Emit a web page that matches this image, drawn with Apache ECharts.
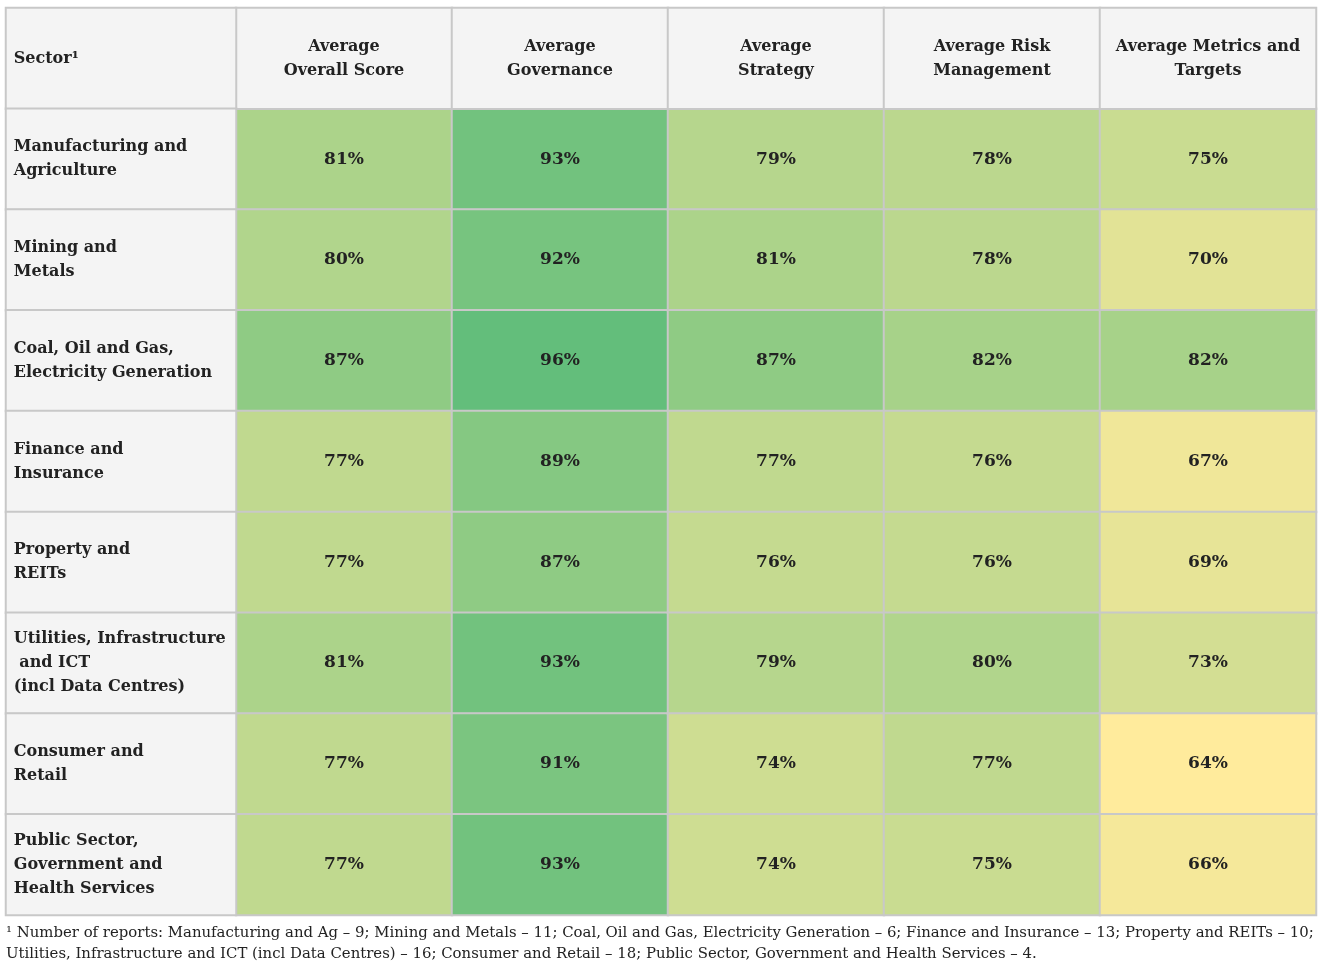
<!DOCTYPE html>
<html lang="en">
<head>
  <meta charset="UTF-8">
  <script src="https://cdn.jsdelivr.net/npm/echarts@6/dist/echarts.min.js"></script>
  <style>
    body { margin: 0; background: #fff; }
    #main { width: 1325px; height: 973px; }
  </style>
</head>
<body>
  <div id="main"></div>
  <script>
    // row labels (first one is the corner header)
    const sectors = [
      'Manufacturing and\nAgriculture',
      'Mining and\nMetals',
      'Coal, Oil and Gas,\nElectricity Generation',
      'Finance and\nInsurance',
      'Property and\nREITs',
      'Utilities, Infrastructure\n and ICT\n(incl Data Centres)',
      'Consumer and\nRetail',
      'Public Sector,\nGovernment and\nHealth Services'
    ];
    const metrics = [
      'Average\nOverall Score',
      'Average\nGovernance',
      'Average\nStrategy',
      'Average Risk\nManagement',
      'Average Metrics and\nTargets'
    ];
    const overall    = [81, 80, 87, 77, 77, 81, 77, 77];
    const governance = [93, 92, 96, 89, 87, 93, 91, 93];
    const strategy   = [79, 81, 87, 77, 76, 79, 74, 74];
    const risk       = [78, 78, 82, 76, 76, 80, 77, 75];
    const targets    = [75, 70, 82, 67, 69, 73, 64, 66];
    const footnote = '¹ Number of reports: Manufacturing and Ag – 9; Mining and Metals – 11; Coal, Oil and Gas, Electricity Generation – 6; Finance and Insurance – 13; Property and REITs – 10;\n' +
      'Utilities, Infrastructure and ICT (incl Data Centres) – 16; Consumer and Retail – 18; Public Sector, Government and Health Services – 4.';

    const rowNames = ['Sector¹'].concat(sectors);
    const columns = [overall, governance, strategy, risk, targets];

    const cells = [];
    columns.forEach((col, c) => {
      col.forEach((v, r) => cells.push([c, r + 1, v]));
    });

    const FONT = 'DejaVu Serif';
    const border = { borderColor: '#C8C8C8', borderWidth: 2 };
    const hiddenCat = (data, gridIndex, inverse) => ({
      type: 'category', data, gridIndex, inverse: !!inverse,
      axisLine: { show: false }, axisTick: { show: false },
      axisLabel: { show: false }, splitLine: { show: false }
    });

    var chart = echarts.init(document.getElementById('main'));
    var option = {
      backgroundColor: '#fff',
      animation: false,
      title: {
        text: footnote,
        left: 6,
        top: 923,
        padding: 0,
        textStyle: { fontFamily: FONT, fontSize: 14.9, fontWeight: 'normal', color: '#222', lineHeight: 21 }
      },
      grid: [
        { left: 236, top: 8, width: 1080, height: 907 },
        { left: 6, top: 8, width: 230, height: 907 }
      ],
      xAxis: [hiddenCat(metrics, 0), hiddenCat(['sector'], 1)],
      yAxis: [hiddenCat(rowNames, 0, true), hiddenCat(rowNames, 1, true)],
      visualMap: {
        show: false,
        seriesIndex: 0,
        dimension: 2,
        min: 64,
        max: 96,
        inRange: { color: ['#FFEB9C', '#63BE7B'] }
      },
      series: [
        {
          type: 'heatmap',
          xAxisIndex: 0, yAxisIndex: 0,
          data: cells,
          itemStyle: border,
          label: {
            show: true,
            formatter: p => p.value[2] + '%',
            fontFamily: FONT, fontSize: 17, fontWeight: 'bold', color: '#222'
          },
          emphasis: { disabled: true }
        },
        {
          type: 'heatmap',
          xAxisIndex: 0, yAxisIndex: 0,
          data: metrics.map((m, i) => [i, 0, 0]),
          itemStyle: Object.assign({ color: '#F4F4F4' }, border),
          label: {
            show: true,
            formatter: p => metrics[p.value[0]],
            fontFamily: FONT, fontSize: 16, fontWeight: 'bold', color: '#222', lineHeight: 24
          },
          emphasis: { disabled: true }
        },
        {
          type: 'heatmap',
          xAxisIndex: 1, yAxisIndex: 1,
          data: rowNames.map((n, i) => [0, i, 0]),
          itemStyle: Object.assign({ color: '#F4F4F4' }, border),
          label: {
            show: true,
            position: 'insideLeft',
            distance: 9,
            formatter: p => rowNames[p.value[1]],
            fontFamily: FONT, fontSize: 16, fontWeight: 'bold', color: '#222', lineHeight: 24
          },
          emphasis: { disabled: true }
        }
      ]
    };

    option && chart.setOption(option);
  </script>
</body>
</html>
